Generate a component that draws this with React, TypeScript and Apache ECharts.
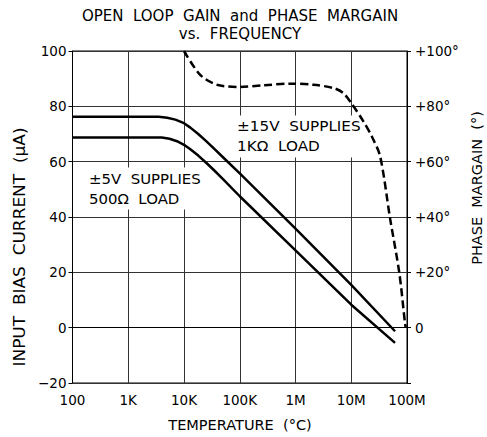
import React, { useEffect, useRef } from "react";
import * as echarts from "echarts";

// ---- data ----
const freqTickValues = [100, 1e3, 1e4, 1e5, 1e6, 1e7, 1e8];
const freqTickLabels = ["100", "1K", "10K", "100K", "1M", "10M", "100M"];

const leftTickValues = [-20, 0, 20, 40, 60, 80, 100];
const leftTickLabels = ["\u221220", "0", "20", "40", "60", "80", "100"];
const rightTickLabels = ["", "0", "+20°", "+40°", "+60°", "+80°", "+100°"];

// ±15V supplies, 1KΩ load
const freq15 = [100, 1000, 3500, 5000, 7000, 10000, 13000, 18000, 25000, 35000, 50000, 100000, 1e6, 1e7, 6.1e7];
const bias15 = [76.2, 76.2, 76.2, 75.9, 75.2, 73.9, 72.3, 70.0, 67.4, 64.6, 61.6, 55.8, 35.8, 15.5, -1.3];

// ±5V supplies, 500Ω load
const freq5 = [100, 1000, 4000, 5500, 7500, 10000, 13000, 18000, 25000, 35000, 50000, 100000, 1e6, 1e7, 6.1e7];
const bias5 = [68.7, 68.7, 68.7, 68.3, 67.4, 66.1, 64.5, 62.2, 59.6, 56.8, 53.7, 47.5, 27.9, 8.3, -5.5];

// phase margin
const freqPhase = [10000, 19500, 39000, 100000, 263000, 794000, 2.1e6, 4.8e6, 7.2e6, 1e7, 1.66e7, 2.34e7, 3.3e7, 4.96e7, 7.28e7, 9.2e7, 9.5e7];
const phase = [100, 91.4, 87.8, 87.0, 87.6, 88.2, 87.8, 86.6, 84.8, 81.2, 74.5, 69.1, 61.9, 39.6, 19.8, 1.7, 0];

const FONT = "DejaVu Sans";

export default function App() {
  const ref = useRef<HTMLDivElement>(null);
  useEffect(() => {
    if (!ref.current) return;
    const chart = echarts.init(ref.current, null, { renderer: "svg" });
    const pair = (xs: number[], ys: number[]) => xs.map((x, i) => [x, ys[i]]);
    const lineStyle = { color: "#000", width: 2.5, join: "round" as const };
    chart.setOption({
      animation: false,
      backgroundColor: "#fff",
      textStyle: { fontFamily: FONT, color: "#000" },
      grid: {
        left: 72.5,
        top: 51,
        width: 334.5,
        height: 332,
        show: true,
        borderColor: "#000",
        borderWidth: 1,
        backgroundColor: "transparent",
      },
      xAxis: {
        type: "log",
        logBase: 10,
        min: 100,
        max: 1e8,
        axisLine: { show: true, lineStyle: { color: "#000", width: 1 } },
        axisTick: { show: false },
        minorTick: { show: false },
        splitLine: { show: true, lineStyle: { color: "#333", width: 1 } },
        axisLabel: {
          margin: 10,
          fontSize: 13.5,
          fontFamily: FONT,
          color: "#000",
          formatter: (v: number) => {
            const i = freqTickValues.findIndex((t) => Math.abs(Math.log10(t) - Math.log10(v)) < 1e-6);
            return i >= 0 ? freqTickLabels[i] : "";
          },
        },
      },
      yAxis: [
        {
          type: "value",
          min: -20,
          max: 100,
          interval: 20,
          axisLine: { show: true, lineStyle: { color: "#000", width: 1 } },
          axisTick: { show: true, length: 4, lineStyle: { color: "#000" } },
          splitLine: { show: true, lineStyle: { color: "#333", width: 1 } },
          axisLabel: {
            margin: 6,
            fontSize: 13.5,
            fontFamily: FONT,
            color: "#000",
            formatter: (v: number) => {
              const i = leftTickValues.indexOf(Math.round(v));
              return i >= 0 ? leftTickLabels[i] : "";
            },
          },
        },
        {
          type: "value",
          position: "right",
          min: -20,
          max: 100,
          interval: 20,
          axisLine: { show: true, lineStyle: { color: "#000", width: 1 } },
          axisTick: { show: true, length: 4, lineStyle: { color: "#000" } },
          splitLine: { show: false },
          axisLabel: {
            margin: 8,
            fontSize: 13.5,
            fontFamily: FONT,
            color: "#000",
            formatter: (v: number) => {
              const i = leftTickValues.indexOf(Math.round(v));
              return i >= 0 ? rightTickLabels[i] : "";
            },
          },
        },
      ],
      graphic: [
        {
          type: "text",
          x: 240,
          y: 15.5,
          style: {
            text: "OPEN  LOOP  GAIN  and  PHASE  MARGAIN",
            font: `15px "${FONT}"`,
            fill: "#000",
            textAlign: "center",
            textVerticalAlign: "middle",
          },
        },
        {
          type: "text",
          x: 240,
          y: 33.5,
          style: {
            text: "vs.  FREQUENCY",
            font: `15px "${FONT}"`,
            fill: "#000",
            textAlign: "center",
            textVerticalAlign: "middle",
          },
        },
        {
          type: "text",
          x: 240,
          y: 425,
          style: {
            text: "TEMPERATURE  (°C)",
            font: `14.5px "${FONT}"`,
            fill: "#000",
            textAlign: "center",
            textVerticalAlign: "middle",
          },
        },
        {
          type: "text",
          x: 20,
          y: 247,
          rotation: Math.PI / 2,
          scaleX: 1.13,
          style: {
            text: "INPUT  BIAS  CURRENT  (μA)",
            font: `15px "${FONT}"`,
            fill: "#000",
            textAlign: "center",
            textVerticalAlign: "middle",
          },
        },
        {
          type: "text",
          x: 477,
          y: 188,
          rotation: Math.PI / 2,
          style: {
            text: "PHASE  MARGAIN  (°)",
            font: `14.5px "${FONT}"`,
            fill: "#000",
            textAlign: "center",
            textVerticalAlign: "middle",
          },
        },
        {
          type: "text",
          x: 236,
          y: 115.5,
          z: 5,
          scaleX: 1.05,
          style: {
            text: "±15V  SUPPLIES\n1KΩ  LOAD",
            font: `14.5px "${FONT}"`,
            lineHeight: 20,
            fill: "#000",
            backgroundColor: "#fff",
            padding: [1, 1],
          },
        },
        {
          type: "text",
          x: 88,
          y: 167.5,
          z: 5,
          scaleX: 1.03,
          style: {
            text: "±5V  SUPPLIES\n500Ω  LOAD",
            font: `14.5px "${FONT}"`,
            lineHeight: 20,
            fill: "#000",
            backgroundColor: "#fff",
            padding: [1, 1],
          },
        },
      ],
      series: [
        {
          type: "line",
          data: pair(freq15, bias15),
          showSymbol: false,
          smooth: false,
          lineStyle,
          z: 10,
        },
        {
          type: "line",
          data: pair(freq5, bias5),
          showSymbol: false,
          smooth: false,
          lineStyle,
          z: 10,
        },
        {
          type: "line",
          yAxisIndex: 1,
          data: pair(freqPhase, phase),
          showSymbol: false,
          smooth: 0.3,
          lineStyle: { color: "#000", width: 2.5, type: [8, 4] },
          z: 10,
        },
      ],
    });
    return () => chart.dispose();
  }, []);
  return (
    <div
      ref={ref}
      style={{ position: "fixed", left: 0, top: 0, width: 487, height: 437 }}
    />
  );
}
